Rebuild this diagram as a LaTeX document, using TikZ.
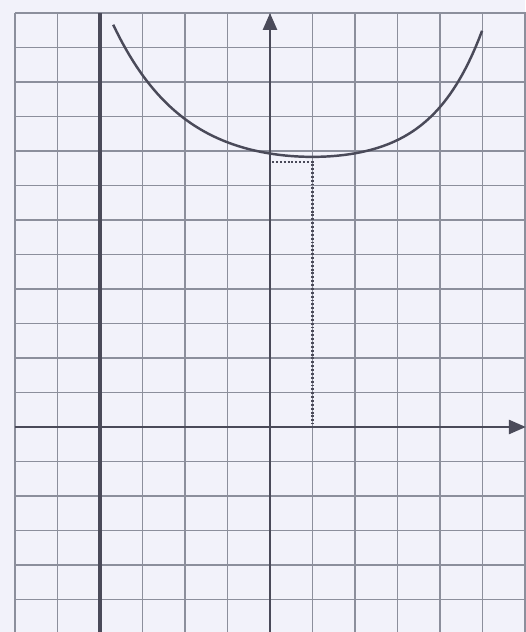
\documentclass[tikz,border=0pt]{standalone}
\usetikzlibrary{arrows.meta}
\definecolor{paper}{rgb}{0.95,0.95,0.98}
\definecolor{gridc}{rgb}{0.55,0.56,0.61}
\definecolor{ink}{rgb}{0.29,0.29,0.35}
\tikzstyle{gridline}=[draw=gridc, line width=1.1pt]
\tikzstyle{axis}=[draw=ink, line width=1.5pt, -{Triangle[length=3.4mm,width=2.8mm]}]
\tikzstyle{asym}=[draw=ink, line width=2pt]
\tikzstyle{curve}=[draw=ink, line width=1.4pt]
\tikzstyle{guide}=[draw=ink, line width=1.4pt, dash pattern=on 1.1pt off 1.1pt]

\begin{document}
\begin{tikzpicture}[x=0.85cm, y=0.69cm]

    % paper
    \fill[paper] (-6.353,-5.942) rectangle (6.0,12.377);
    \useasboundingbox (-6.353,-5.942) rectangle (6.0,12.377);

    % grid
    \foreach \i in {-6,...,6}
        \draw[gridline] (\i,-6) -- (\i,12);
    \foreach \j in {-6,...,12}
        \draw[gridline] (-6,\j) -- (6.1,\j);

    % axes
    \coordinate (O) at (0,0);
    \coordinate (xL) at (-6,0);
    \coordinate (xR) at (6.02,0);
    \coordinate (yB) at (0,-6);
    \coordinate (yT) at (0,12);
    \draw[axis] (xL) -- (xR);
    \draw[axis] (yB) -- (yT);

    % asymptote
    \coordinate (aB) at (-4,-6);
    \coordinate (aT) at (-4,12);
    \draw[asym] (aB) -- (aT);

    % curve
    \draw[curve] plot[domain=-3.69:1, samples=60] (\x, {7.83+0.52*(cosh(0.6*(\x-1))-1)})
        -- plot[domain=1:4.99, samples=60] (\x, {7.83+0.275*(cosh(0.84*(\x-1))-1)});

    % minimum
    \coordinate (mY) at (0.05,7.68);
    \coordinate (mP) at (1,7.68);
    \coordinate (mX) at (1,0.1);
    \draw[guide] (mY) -- (mP) -- (mX);

\end{tikzpicture}
\end{document}
